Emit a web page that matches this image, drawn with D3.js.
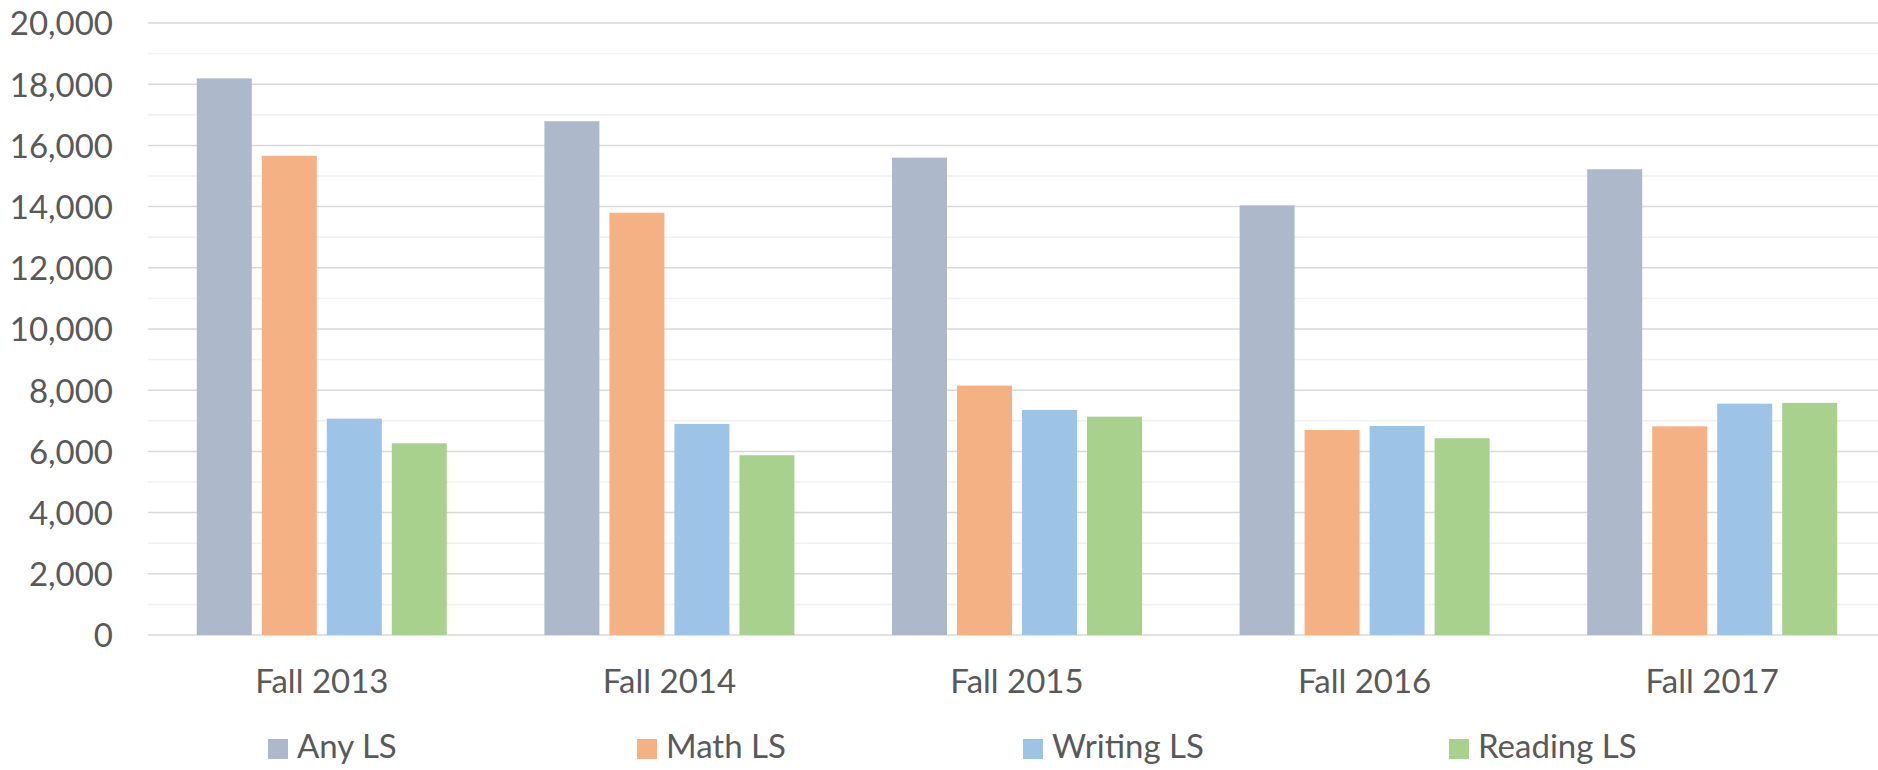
<!DOCTYPE html>
<html>
<head>
<meta charset="utf-8">
<script src="https://cdn.jsdelivr.net/npm/d3@7"></script>
<style>
  html, body { margin: 0; padding: 0; background: #ffffff; }
  svg { display: block; }
  text { font-family: "Lato", "Open Sans", sans-serif; fill: #595959; }
</style>
</head>
<body>
<svg id="chart" width="1878" height="770"></svg>
<script>
// ---- data ----
const categories = ["Fall 2013", "Fall 2014", "Fall 2015", "Fall 2016", "Fall 2017"];
const seriesNames = ["Any LS", "Math LS", "Writing LS", "Reading LS"];
const anyLS     = [18190, 16790, 15600, 14040, 15220];
const mathLS    = [15660, 13800, 8150, 6700, 6820];
const writingLS = [7070, 6895, 7355, 6830, 7560];
const readingLS = [6265, 5875, 7135, 6430, 7585];
const yTicks = [0, 2000, 4000, 6000, 8000, 10000, 12000, 14000, 16000, 18000, 20000];

const seriesValues = [anyLS, mathLS, writingLS, readingLS];
const colors = ["#ADB9CA", "#F4B183", "#9DC3E6", "#A9D18E"];

// ---- layout ----
const W = 1878, H = 770;
const plot = { left: 148, right: 1886, top: 23, bottom: 635 };
const svg = d3.select("#chart");

const x0 = d3.scaleBand().domain(categories).range([plot.left, plot.right]).padding(0);
const groupW = 250;
const x1 = d3.scaleBand().domain(seriesNames)
  .range([(x0.bandwidth() - groupW) / 2, (x0.bandwidth() + groupW) / 2])
  .paddingInner(10 / 65).paddingOuter(0);
const y = d3.scaleLinear().domain([0, 20000]).range([plot.bottom, plot.top]);

// minor gridlines
const minor = d3.range(1000, 20000, 2000);
svg.append("g").selectAll("line").data(minor).join("line")
  .attr("x1", plot.left).attr("x2", W)
  .attr("y1", d => y(d)).attr("y2", d => y(d))
  .attr("stroke", "#f0f0f0").attr("stroke-width", 1.5);

// major gridlines
svg.append("g").selectAll("line").data(yTicks).join("line")
  .attr("x1", plot.left).attr("x2", W)
  .attr("y1", d => y(d)).attr("y2", d => y(d))
  .attr("stroke", "#d9d9d9").attr("stroke-width", 1.5);

// y axis labels
const yAxis = d3.axisLeft(y).tickValues(yTicks).tickFormat(d3.format(",")).tickSize(0).tickPadding(0);
const gy = svg.append("g").attr("transform", `translate(113,0)`).call(yAxis);
gy.select(".domain").remove();
gy.selectAll("text").attr("font-size", 33).attr("fill", "#595959")
  .attr("font-family", "Lato, 'Open Sans', sans-serif").attr("dy", "0.36em");

// bars
const groups = svg.append("g").selectAll("g").data(categories).join("g")
  .attr("transform", d => `translate(${x0(d)},0)`);
groups.selectAll("rect")
  .data((c, i) => seriesNames.map((s, j) => ({ s, v: seriesValues[j][i], c: colors[j] })))
  .join("rect")
  .attr("x", d => x1(d.s))
  .attr("width", x1.bandwidth())
  .attr("y", d => y(d.v))
  .attr("height", d => y(0) - y(d.v))
  .attr("fill", d => d.c);

// x labels
const xAxis = d3.axisBottom(x0).tickSize(0).tickPadding(0);
const gx = svg.append("g").attr("transform", `translate(0,${plot.bottom})`).call(xAxis);
gx.select(".domain").remove();
gx.selectAll("text").attr("font-size", 33).attr("fill", "#595959")
  .attr("font-family", "Lato, 'Open Sans', sans-serif")
  .attr("y", 58).attr("dy", 0);

// legend
const legendX = [268, 637, 1023, 1449];
const leg = svg.append("g").selectAll("g").data(seriesNames).join("g")
  .attr("transform", (d, i) => `translate(${legendX[i]},0)`);
leg.append("rect").attr("x", 0).attr("y", 739).attr("width", 20).attr("height", 20)
  .attr("fill", (d, i) => colors[i]);
leg.append("text").attr("x", 29).attr("y", 758).attr("font-size", 33).text(d => d);
</script>
</body>
</html>
